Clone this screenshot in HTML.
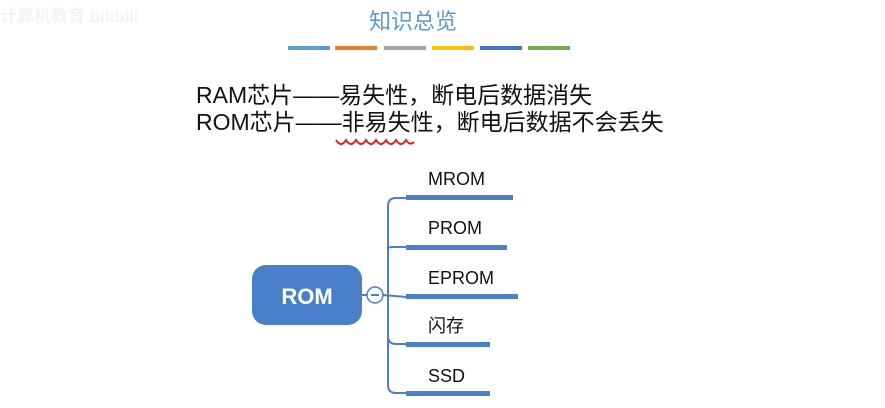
<!DOCTYPE html>
<html><head><meta charset="utf-8"><style>
body{margin:0;width:885px;height:408px;background:#fff;position:relative;overflow:hidden;font-family:"Liberation Sans","Noto Sans CJK SC",sans-serif}
.a{position:absolute}
</style></head><body>
<div class="a" style="left:0;top:2px;font-size:17px;color:#f3f3f3;font-weight:bold">计算机教育 bilibili</div>
<div class="a" style="left:363px;top:4px;width:100px;text-align:center;font-size:22px;color:#5b9bd5">知识总览</div>
<div class="a" style="left:288px;top:46px;width:42px;height:4px;background:#5b9bd5"></div>
<div class="a" style="left:335px;top:46px;width:42px;height:4px;background:#ed7d31"></div>
<div class="a" style="left:384px;top:46px;width:42px;height:4px;background:#a5a5a5"></div>
<div class="a" style="left:432px;top:46px;width:42px;height:4px;background:#ffc000"></div>
<div class="a" style="left:480px;top:46px;width:42px;height:4px;background:#4472c4"></div>
<div class="a" style="left:528px;top:46px;width:42px;height:4px;background:#70ad47"></div>
<div class="a" style="left:196px;top:82px;font-size:23px;line-height:27px;color:#111;white-space:nowrap">RAM芯片——易失性，断电后数据消失<br>ROM芯片——非易失性，断电后数据不会丢失</div>
<svg class="a" style="left:0;top:0" width="885" height="408">
<path d="M336 140 q5 8 10 0 q5 8 10 0 q5 8 10 0 q5 8 10 0 q5 8 10 0 q5 8 10 0 q5 8 10 0 q4 6 8 2" fill="none" stroke="#d22" stroke-width="2"/>
<rect x="252" y="265" width="110" height="60" rx="14" fill="#4a7fcb"/>
<text x="307" y="304" text-anchor="middle" font-size="22" font-weight="bold" fill="#fff" font-family="Liberation Sans">ROM</text>
<line x1="362" y1="295" x2="367" y2="295" stroke="#4a7fcb" stroke-width="2"/>
<circle cx="375" cy="295" r="8" fill="#fff" stroke="#4a7fcb" stroke-width="1.5"/>
<line x1="371" y1="295" x2="379" y2="295" stroke="#4a7fcb" stroke-width="2"/>
<line x1="383" y1="295" x2="406" y2="297" stroke="#4a7fcb" stroke-width="2"/>
<path d="M406 198 H396 q-8 0 -8 8 V385 q0 8 8 8 H406" fill="none" stroke="#4a7fcb" stroke-width="2"/>
<path d="M388 248 q0 -1 8 -1 H406 M388 336 q0 8 8 8 H406" fill="none" stroke="#4a7fcb" stroke-width="2"/>
<g fill="#4a7fcb">
<rect x="406" y="195" width="107" height="5"/>
<rect x="406" y="245" width="101" height="5"/>
<rect x="406" y="294" width="112" height="5"/>
<rect x="406" y="342" width="84" height="5"/>
<rect x="406" y="391" width="84" height="5"/>
</g>
<g font-size="18" fill="#111" font-family="Liberation Sans,Noto Sans CJK SC,sans-serif">
<text x="428" y="185">MROM</text>
<text x="428" y="234">PROM</text>
<text x="428" y="284">EPROM</text>
<text x="428" y="332">闪存</text>
<text x="428" y="382">SSD</text>
</g>
</svg>
</body></html>
